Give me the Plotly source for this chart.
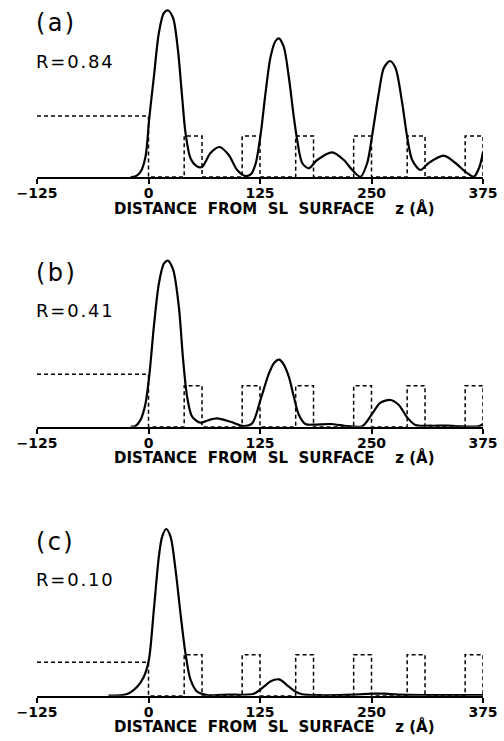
import plotly.graph_objects as go

# ---- data ----
tick_vals = [-125, 0, 125, 250, 375]
panel_labels = ["(\u200aa\u200a)", "(\u200ab\u200a)", "(\u200ac\u200a)"]
r_labels = ["R\u200a=\u200a0\u200a.\u200a8\u200a4", "R\u200a=\u200a0\u200a.\u200a4\u200a1",
            "R\u200a=\u200a0\u200a.\u200a1\u200a0"]
NB = "\u00a0"
axis_title = ("DISTANCE" + NB * 2 + "FROM" + NB * 2 + "SL" + NB * 2 + "SURFACE" + NB * 4
              + "z" + NB + "(Å)")

# dashed model structure: substrate level (z<0) and SL boxes
substrate_level = [61, 52.4, 33.4]
box_height = 41
box_starts = [40, 105, 165, 230, 290, 355]
box_ends = [60, 125, 185, 250, 310, 375]

za = [-20, -15, -9, -3.4, 1, 6, 11.6, 17.2, 22, 27.6, 33, 37.7, 41.5, 47, 53.8, 60,
      69.5, 79.6, 90, 99.4, 108.7, 115, 120, 125.6, 131.2, 136.8, 142.4, 146.1, 151.7,
      157.3, 162.9, 166.7, 172.3, 179.7, 189.1, 205.9, 219, 228.4, 237.7, 245.2, 250.8,
      258.2, 263.8, 270.6, 276.9, 284.4, 290, 295.6, 304.9, 314.2, 331, 344.2, 355.4,
      364.7, 371, 375]
ia = [0, 0.5, 5, 20, 60, 100, 144, 164, 166.5, 159, 127, 80, 44, 19, 11, 10,
      24, 30, 22, 7, 1, 3, 13, 42, 84, 120, 136, 138.7, 130,
      100, 60, 37, 14, 8.7, 17, 24.7, 17, 7, 0.3, 14, 42,
      84, 109, 116, 109, 74, 40, 17, 7, 14, 21.3, 14, 5,
      0.3, 10, 25]

zb = [-20, -15, -9, -3.4, 1.1, 6, 11.6, 17.2, 21.6, 27.6, 34, 38.8, 43.3, 48.9, 58.3,
      67, 77, 91.9, 106.8, 116.2, 125.6, 134.9, 141, 146.5, 151, 157.3, 162.9, 168.5,
      176, 185.3, 204, 222.8, 239.6, 250.8, 260, 271.3, 280.6, 290, 299.3, 316, 335,
      353, 370, 375]
ib = [0, 0.5, 6.7, 23, 53, 100, 143, 163, 166, 157, 120, 67, 30, 10, 4,
      6.5, 8.3, 5, 0.7, 3.3, 27, 53, 64, 67, 63, 50, 30, 12,
      2.7, 2, 2.7, 0.7, 0.5, 13, 24, 26.7, 21.7, 9.3, 1.7, 1, 1,
      0.3, 0.3, 2.7]

zc = [-45, -24, -12.7, -5.2, 0.4, 6, 11.6, 15.3, 19.8, 24.7, 30.3, 35.9, 41.5, 47.1,
      54.6, 65.8, 90, 118, 129.3, 137, 146.5, 157.3, 165, 172, 190, 230, 250, 265,
      280, 375]
ic = [0, 1.7, 9, 19, 35.7, 86, 139, 159, 166.7, 159, 126, 82, 42, 16,
      4, 0.7, 1, 2, 9, 14.5, 16.3, 9, 4, 1.5, 0.5, 1, 2, 2,
      1, 0.5]

curves = [(za, ia), (zb, ib), (zc, ic)]

# ---- layout geometry ----
W, H = 504, 741
ML, MR = 37, 21
PW = W - ML - MR
baselines_px = [177, 426.7, 695.7]
panel_h_px = 172
y_top = 172


def px_x(p):
    return (p - ML) / PW


def px_y(p):
    return 1 - p / H


fig = go.Figure()

for k in range(3):
    xa = "x" if k == 0 else f"x{k+1}"
    ya = "y" if k == 0 else f"y{k+1}"
    L = substrate_level[k]
    px = [-125, 0, 0]
    py = [L, L, 0]
    for s, e in zip(box_starts, box_ends):
        px += [s, s, e, e]
        py += [0, box_height, box_height, 0]
    fig.add_trace(go.Scatter(x=px, y=py, mode="lines", xaxis=xa, yaxis=ya,
                             line=dict(color="black", width=1.5, dash="4px,3px"),
                             showlegend=False, hoverinfo="skip"))
    z, inten = curves[k]
    fig.add_trace(go.Scatter(x=z, y=inten, mode="lines", xaxis=xa, yaxis=ya,
                             line=dict(color="black", width=2.2, shape="spline", smoothing=0.8),
                             showlegend=False))

layout = dict(width=W, height=H, margin=dict(l=ML, r=MR, t=0, b=0),
              paper_bgcolor="white", plot_bgcolor="white",
              font=dict(family="DejaVu Sans", color="black"))
annotations = []
for k in range(3):
    sfx = "" if k == 0 else str(k + 1)
    b = baselines_px[k]
    dom = [px_y(b), px_y(b - panel_h_px)]
    layout["xaxis" + sfx] = dict(range=[-125, 375], tickvals=tick_vals, ticks="outside",
                                 ticklen=5, tickwidth=1.5, tickcolor="black",
                                 ticklabelstandoff=-3,
                                 showline=True, linewidth=2, linecolor="black",
                                 showgrid=False, zeroline=False,
                                 tickfont=dict(size=14, family="DejaVu Sans", color="black",
                                               weight="bold"),
                                 anchor="y" + sfx, domain=[0, 1])
    layout["yaxis" + sfx] = dict(range=[0, y_top], domain=dom, showticklabels=False,
                                 showgrid=False, zeroline=False, showline=False, ticks="",
                                 anchor="x" + sfx, fixedrange=True)
    annotations.append(dict(text=panel_labels[k], x=px_x(34), y=px_y(b - 154),
                            xref="paper", yref="paper",
                            xanchor="left", yanchor="middle", showarrow=False,
                            font=dict(size=24, family="DejaVu Sans", color="black")))
    annotations.append(dict(text=r_labels[k], x=px_x(34), y=px_y(b - 116),
                            xref="paper", yref="paper",
                            xanchor="left", yanchor="middle", showarrow=False,
                            font=dict(size=18, family="DejaVu Sans", color="black")))
    annotations.append(dict(text=axis_title, x=px_x(274), y=px_y(b + 31),
                            xref="paper", yref="paper", xanchor="center", yanchor="middle",
                            showarrow=False,
                            font=dict(size=15, family="DejaVu Sans", color="black",
                                      weight="bold")))
layout["annotations"] = annotations
fig.update_layout(**layout)

fig.write_html("out.html")
